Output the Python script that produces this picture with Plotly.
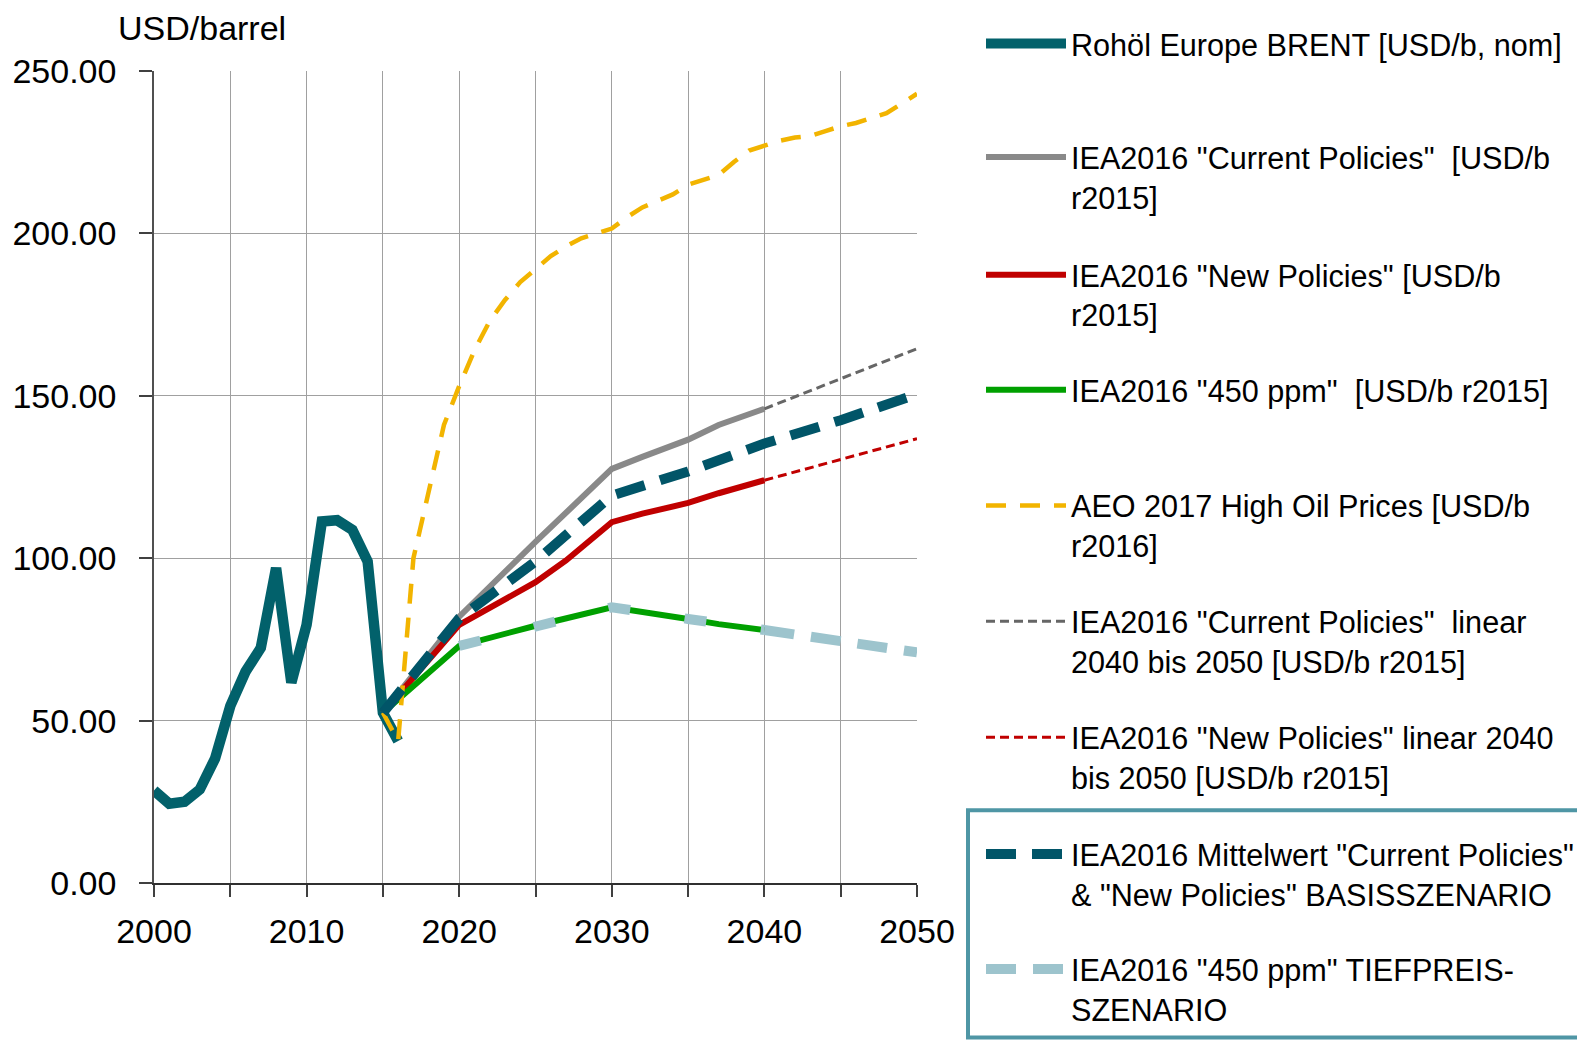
import plotly.graph_objects as go

# ---------------- data ----------------
brent_years = list(range(2000, 2017))
brent_vals = [28.5, 24.4, 25.0, 28.8, 38.3, 54.5, 65.1, 72.4, 97.0, 61.7,
              79.5, 111.3, 111.7, 108.7, 99.0, 52.4, 43.7]

cp_years = [2015, 2020, 2025, 2030, 2032, 2034, 2035, 2037, 2039, 2040]
cp_vals = [52.4, 82.0, 105.0, 127.5, 131.2, 134.6, 136.5, 141.0, 144.5, 146.0]

np_years = [2015, 2020, 2025, 2027, 2030, 2032, 2035, 2037, 2040]
np_vals = [52.4, 79.5, 92.6, 99.3, 111.1, 113.7, 117.0, 120.0, 124.0]

p450_years = [2015, 2020, 2025, 2030, 2035, 2037, 2040]
p450_vals = [52.4, 73.0, 79.2, 84.9, 81.3, 79.7, 77.9]

aeo_years = list(range(2015, 2051))
aeo_vals = [52.4, 43.7, 100.0, 121.0, 141.0, 153.0, 164.0, 173.0, 179.5, 185.0,
            189.0, 193.0, 196.0, 198.5, 200.0, 201.5, 205.0, 208.0, 210.0, 212.0,
            215.0, 216.5, 218.0, 222.0, 225.5, 227.0, 228.5, 229.5, 230.0, 231.5,
            233.0, 234.0, 235.5, 237.0, 240.0, 243.0]

cp_lin_years = [2040, 2050]
cp_lin_vals = [146.0, 164.5]

np_lin_years = [2040, 2050]
np_lin_vals = [124.0, 136.8]

mean_years = [2015, 2020, 2025, 2030, 2035, 2040, 2045, 2050]
mean_vals = [52.4, 81.5, 99.0, 119.3, 126.7, 135.3, 142.5, 150.5]

low_years_a = [2020, 2025, 2030, 2035, 2040]
low_vals_a = [73.0, 79.2, 84.9, 81.3, 77.9]
low_years_b = [2040, 2045, 2050]
low_vals_b = [77.9, 74.6, 71.0]

x_ticks = [2000, 2010, 2020, 2030, 2040, 2050]
y_ticks = [0, 50, 100, 150, 200, 250]

names = [
    "Rohöl Europe BRENT [USD/b, nom]",
    'IEA2016 "Current Policies"  [USD/b<br>r2015]',
    'IEA2016 "New Policies" [USD/b<br>r2015]',
    'IEA2016 "450 ppm"  [USD/b r2015]',
    'AEO 2017 High Oil Prices [USD/b<br>r2016]',
    'IEA2016 "Current Policies"  linear<br>2040 bis 2050 [USD/b r2015]',
    'IEA2016 "New Policies" linear 2040<br>bis 2050 [USD/b r2015]',
    'IEA2016 Mittelwert "Current Policies"<br>&amp; "New Policies" BASISSZENARIO',
    'IEA2016 "450 ppm" TIEFPREIS-<br>SZENARIO',
]

FONT = "Liberation Sans, Arial, sans-serif"
LEG_SIZE = 30.6
TICK_SIZE = 34

# ---------------- figure ----------------
# page offset of the figure (default body margin of the html page)
OFF = 8
W, H = 1585 - OFF, 1041 - OFF
# plot area in page pixels
L, R, T, B = 154, 917, 71, 882.6


def px_x(px):
    return (px - L) / (R - L)


def px_y(py):
    return (B - py) / (B - T)


fig = go.Figure()


def add(x, y, name, color, width, dash, legend_id, show=True):
    fig.add_trace(go.Scatter(
        x=x, y=y, mode="lines", name=name,
        line=dict(color=color, width=width, dash=dash),
        legend=legend_id, showlegend=show, hoverinfo="skip"))


add(brent_years, brent_vals, names[0], "#02616B", 10.5, "solid", "legend")
add(cp_years, cp_vals, names[1], "#898989", 6, "solid", "legend2")
add(np_years, np_vals, names[2], "#C00000", 6, "solid", "legend3")
add(p450_years, p450_vals, names[3], "#00A000", 6, "solid", "legend4")
add(aeo_years, aeo_vals, names[4], "#F2B400", 4.5, "20px,14px", "legend5")
add(cp_lin_years, cp_lin_vals, names[5], "#666666", 3, "9px,5px", "legend6")
add(np_lin_years, np_lin_vals, names[6], "#C00000", 3, "9px,5px", "legend7")
add(mean_years, mean_vals, names[7], "#015568", 10, "30px,16px", "legend8")
add(low_years_b, low_vals_b, names[8], "#9DC4CD", 10, "30px,17px", "legend9")
add(low_years_a, low_vals_a, names[8], "#9DC4CD", 10, "22px,55px", "legend9", show=False)

# symbol centre rows of the legend entries (page pixels from top)
legend_rows = [43.3, 156.7, 274.3, 389.3, 505.0, 620.7, 736.7, 853.3, 968.3]
line_h = 1.3 * LEG_SIZE
sym_off = 6.5 + line_h / 2 + 1.5 - 2.8 + 1.0

legend_layout = {}
for i, row in enumerate(legend_rows):
    key = "legend" if i == 0 else "legend%d" % (i + 1)
    legend_layout[key] = dict(
        x=px_x(981), y=px_y(row - sym_off), xanchor="left", yanchor="top",
        font=dict(family=FONT, size=LEG_SIZE, color="black"),
        itemwidth=80, valign="top", bgcolor="rgba(0,0,0,0)", borderwidth=0,
    )

fig.update_layout(
    width=W, height=H,
    margin=dict(l=L - OFF, r=(1585 - R), t=T - OFF, b=(1041 - B),
                pad=0, autoexpand=False),
    paper_bgcolor="white", plot_bgcolor="white",
    font=dict(family=FONT, size=TICK_SIZE, color="black"),
    showlegend=True,
    xaxis=dict(
        range=[2000, 2050], tickmode="array", tickvals=x_ticks,
        ticktext=[str(v) for v in x_ticks],
        showgrid=True, gridcolor="#A0A0A0", gridwidth=1.3,
        ticks="outside", ticklen=12, tickwidth=1.5, tickcolor="#404040",
        showline=True, linecolor="#303030", linewidth=2,
        zeroline=False, ticklabelstandoff=5,
        tickfont=dict(family=FONT, size=TICK_SIZE, color="black"),
        minor=dict(dtick=5, tick0=2000, showgrid=True, gridcolor="#A0A0A0",
                   gridwidth=1.3, ticks="outside", ticklen=12,
                   tickcolor="#404040", tickwidth=1.5),
    ),
    yaxis=dict(
        range=[0, 250], tickmode="array", tickvals=y_ticks,
        ticktext=["%.2f" % v for v in y_ticks],
        showgrid=True, gridcolor="#A0A0A0", gridwidth=1.3,
        ticks="outside", ticklen=13, tickwidth=1.5, tickcolor="#404040",
        showline=True, linecolor="#505050", linewidth=1.5,
        zeroline=False, ticklabelstandoff=16,
        tickfont=dict(family=FONT, size=TICK_SIZE, color="black"),
    ),
    annotations=[dict(
        text="USD/barrel", xref="paper", yref="paper",
        x=px_x(116), y=px_y(28), xanchor="left", yanchor="middle",
        showarrow=False, font=dict(family=FONT, size=TICK_SIZE, color="black"),
    )],
    shapes=[dict(
        type="rect", xref="paper", yref="paper",
        x0=px_x(968), x1=px_x(1581), y0=px_y(810), y1=px_y(1037),
        line=dict(color="#4F96A5", width=4), fillcolor="rgba(0,0,0,0)",
        layer="above",
    )],
    **legend_layout,
)

fig.write_html("out.html")
